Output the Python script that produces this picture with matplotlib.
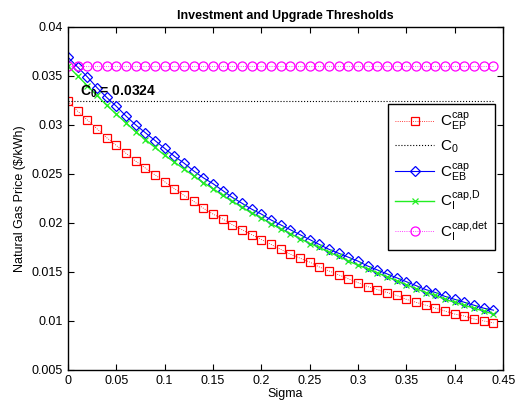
import numpy as np
import matplotlib
matplotlib.use("Agg")
import matplotlib.pyplot as plt

plt.rcParams['font.family'] = ['Liberation Sans', 'DejaVu Sans']
plt.rcParams['mathtext.fontset'] = 'custom'
plt.rcParams['mathtext.rm'] = 'Liberation Sans'
plt.rcParams['mathtext.it'] = 'Liberation Sans'
plt.rcParams['mathtext.bf'] = 'Liberation Sans:bold'

sigma = [round(0.01 * i, 2) for i in range(45)]

c_ep = [0.0324, 0.0314, 0.0305, 0.0296, 0.0287, 0.0279, 0.0271, 0.0263, 0.0256,
        0.0249, 0.0242, 0.0235, 0.0228, 0.0222, 0.0215, 0.0209, 0.0204, 0.0198,
        0.0193, 0.0188, 0.0183, 0.0178, 0.0173, 0.0168, 0.0164, 0.0160, 0.0155,
        0.0151, 0.0147, 0.0143, 0.0139, 0.0135, 0.0132, 0.0129, 0.0126, 0.0122,
        0.0119, 0.0116, 0.0113, 0.0110, 0.0107, 0.0105, 0.0102, 0.0100, 0.0098]

c_eb = [0.0369, 0.0359, 0.0349, 0.0338, 0.0328, 0.0319, 0.0309, 0.0300, 0.0292,
        0.0284, 0.0276, 0.0268, 0.0261, 0.0253, 0.0246, 0.0240, 0.0233, 0.0226,
        0.0220, 0.0214, 0.0209, 0.0203, 0.0198, 0.0193, 0.0188, 0.0183, 0.0178,
        0.0173, 0.0169, 0.0165, 0.0161, 0.0156, 0.0152, 0.0148, 0.0144, 0.0140,
        0.0136, 0.0132, 0.0129, 0.0125, 0.0122, 0.0119, 0.0116, 0.0113, 0.0111]

c_id = [0.0360, 0.0350, 0.0340, 0.0330, 0.0320, 0.0311, 0.0302, 0.0293, 0.0285,
        0.0277, 0.0269, 0.0262, 0.0255, 0.0248, 0.0241, 0.0235, 0.0228, 0.0222,
        0.0216, 0.0210, 0.0205, 0.0199, 0.0194, 0.0189, 0.0184, 0.0179, 0.0175,
        0.0170, 0.0166, 0.0161, 0.0157, 0.0153, 0.0149, 0.0145, 0.0141, 0.0137,
        0.0133, 0.0129, 0.0126, 0.0122, 0.0119, 0.0116, 0.0113, 0.0110, 0.0107]

c_idet = [0.0360] * 45
c0 = 0.0324

fig = plt.figure(figsize=(5.15, 4.07), dpi=100)
ax = fig.add_axes([0.132, 0.091, 0.845, 0.843])

ax.plot(sigma, c_ep, color='#ff0000', linestyle=':', linewidth=0.6, marker='s',
        markersize=5.5, markerfacecolor='none', markeredgewidth=0.9,
        label=r'$\mathregular{C^{cap}_{EP}}$')
ax.plot(sigma, [c0] * len(sigma), color='black', linestyle=':', linewidth=0.8,
        label=r'$\mathregular{C_0}$')
ax.plot(sigma, c_eb, color='#0000ff', linestyle='-', linewidth=0.8, marker='D',
        markersize=5.5, markerfacecolor='none', markeredgewidth=0.9,
        label=r'$\mathregular{C^{cap}_{EB}}$')
ax.plot(sigma, c_id, color='#22ee22', linestyle='-', linewidth=1.0, marker='x',
        markersize=4.5, markeredgewidth=0.9,
        label=r'$\mathregular{C^{cap{,}D}_{I}}$')
ax.plot(sigma, c_idet, color='#ff00ff', linestyle=':', linewidth=0.6, marker='o',
        markersize=6.5, markerfacecolor='none', markeredgewidth=0.9,
        label=r'$\mathregular{C^{cap{,}det}_{I}}$')

ax.text(0.012, 0.0334, r'$\mathbf{C_0}$ = 0.0324', fontsize=10,
        fontweight='bold', ha='left', va='center')

ax.set_xlim(0, 0.45)
ax.set_ylim(0.005, 0.04)
ax.set_xticks([0, 0.05, 0.1, 0.15, 0.2, 0.25, 0.3, 0.35, 0.4, 0.45])
ax.set_xticklabels(['0', '0.05', '0.1', '0.15', '0.2', '0.25', '0.3', '0.35', '0.4', '0.45'])
ax.set_yticks([0.005, 0.01, 0.015, 0.02, 0.025, 0.03, 0.035, 0.04])
ax.set_yticklabels(['0.005', '0.01', '0.015', '0.02', '0.025', '0.03', '0.035', '0.04'])
ax.tick_params(direction='in', top=True, right=True, labelsize=9, length=4, width=0.8)
for s in ax.spines.values():
    s.set_linewidth(1.0)

ax.set_xlabel('Sigma', fontsize=9, labelpad=1)
ax.set_ylabel('Natural Gas Price ($/kWh)', fontsize=9, labelpad=4)
ax.set_title('Investment and Upgrade Thresholds', fontsize=9, fontweight='bold', pad=6)

leg = ax.legend(loc='upper right', bbox_to_anchor=(0.982, 0.775), fontsize=11,
                frameon=True, fancybox=False, edgecolor='black', framealpha=1,
                handlelength=2.55, labelspacing=0.42, borderpad=0.45,
                handletextpad=0.4, borderaxespad=0.0)
leg.get_frame().set_linewidth(1.0)

fig.savefig('out.png', dpi=100)
